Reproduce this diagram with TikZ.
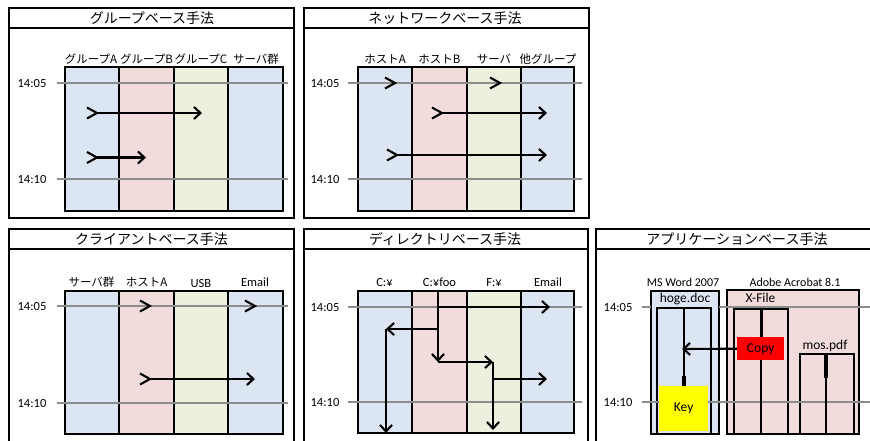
\documentclass[tikz,border=0pt]{standalone}
\usepackage{fontspec}
\setmainfont{Carlito}
\newfontfamily\jpfont{Noto Sans CJK JP}
\usetikzlibrary{arrows.meta}
\definecolor{cblue}{RGB}{220,230,242}
\definecolor{cpink}{RGB}{242,220,219}
\definecolor{cgreen}{RGB}{235,241,222}
\definecolor{cgray}{RGB}{140,140,140}
\definecolor{cred}{RGB}{255,0,0}
\definecolor{cyellow}{RGB}{255,255,0}
\begin{document}
\begin{tikzpicture}[x=1pt,y=-1pt,
  panel/.style={draw=black,line width=2pt},
  colbox/.style={draw=black,line width=1.9pt},
  tline/.style={draw=cgray,line width=2.4pt},
  arr/.style={draw=black,line width=2.1pt,line join=miter,-{Straight Barb[length=6.5pt,width=12pt]}},
  plainln/.style={draw=black,line width=1.9pt},
  thickln/.style={draw=black,line width=3.8pt},
  ttl/.style={inner sep=0pt,font=\jpfont\fontsize{14}{16}\selectfont},
  hdr/.style={inner sep=0pt,font=\jpfont\fontsize{11.5}{13}\selectfont},
  lat/.style={inner sep=0pt,font=\fontsize{12.5}{15}\selectfont},
  latb/.style={inner sep=0pt,font=\fontsize{13.5}{15}\selectfont},
  gttail/.pic={\draw[black,line width=2.1pt,line join=miter] (-10,-5.5) -- (0,0) -- (-10,5.5);}
]
\useasboundingbox (0,0) rectangle (870,440);
\clip (0,0) rectangle (870,440);
\fill[white] (0,0) rectangle (870,440);

% ===== Panel 1: group based =====
\draw[colbox,fill=cblue]  (65,67) rectangle (119,211);
\draw[colbox,fill=cpink]  (119,67) rectangle (174,211);
\draw[colbox,fill=cgreen] (174,67) rectangle (228,211);
\draw[colbox,fill=cblue]  (228,67) rectangle (283,211);
\draw[tline] (57,83) -- (288,83);
\draw[tline] (57,179) -- (288,179);
\draw[panel] (9,8) rectangle (294,218);
\draw[panel] (9,28) -- (294,28);
\node[ttl] (p1t) at (152,18) {グループベース手法};
\node[hdr] (p1h1) at (91,59) {グループA};
\node[hdr] (p1h2) at (146.5,59) {グループB};
\node[hdr] (p1h3) at (201,59) {グループC};
\node[hdr] (p1h4) at (256,59) {サーバ群};
\node[lat] (p1a) at (32,83) {14:05};
\node[lat] (p1b) at (32,179) {14:10};
\coordinate (p1s1) at (97,113); \coordinate (p1e1) at (202,113);
\coordinate (p1s2) at (97,157.5); \coordinate (p1e2) at (146,157.5);
\pic at (p1s1) {gttail}; \draw[arr] (p1s1) -- (p1e1);
\pic at (p1s2) {gttail}; \draw[arr] (p1s2) -- (p1e2);

% ===== Panel 2: network based =====
\draw[colbox,fill=cblue]  (358,67) rectangle (412,211);
\draw[colbox,fill=cpink]  (412,67) rectangle (467,211);
\draw[colbox,fill=cgreen] (467,67) rectangle (521,211);
\draw[colbox,fill=cblue]  (521,67) rectangle (574,211);
\draw[tline] (348,83) -- (582,83);
\draw[tline] (348,179) -- (582,179);
\draw[panel] (304,8) rectangle (589,218);
\draw[panel] (304,28) -- (589,28);
\node[ttl] (p2t) at (445,18) {ネットワークベース手法};
\node[hdr] (p2h1) at (385,59) {ホストA};
\node[hdr] (p2h2) at (439.5,59) {ホストB};
\node[hdr] (p2h3) at (494,59) {サーバ};
\node[hdr] (p2h4) at (548,59) {他グループ};
\node[lat] (p2a) at (325,83) {14:05};
\node[lat] (p2b) at (325,179) {14:10};
\coordinate (p2m1) at (395,83); \coordinate (p2m2) at (500,83);
\pic at (p2m1) {gttail}; \pic at (p2m2) {gttail};
\coordinate (p2s1) at (442,113); \coordinate (p2e1) at (547,113);
\coordinate (p2s2) at (397,155); \coordinate (p2e2) at (547,155);
\pic at (p2s1) {gttail}; \draw[arr] (p2s1) -- (p2e1);
\pic at (p2s2) {gttail}; \draw[arr] (p2s2) -- (p2e2);

% ===== Panel 3: client based =====
\draw[colbox,fill=cblue]  (65,291) rectangle (119,434);
\draw[colbox,fill=cpink]  (119,291) rectangle (174,434);
\draw[colbox,fill=cgreen] (174,291) rectangle (228,434);
\draw[colbox,fill=cblue]  (228,291) rectangle (283,434);
\draw[tline] (57,306) -- (288,306);
\draw[tline] (57,403) -- (288,403);
\draw[panel] (9,229) rectangle (294,450);
\draw[panel] (9,249) -- (294,249);
\node[ttl] (p3t) at (151.5,239) {クライアントベース手法};
\node[hdr] (p3h1) at (91.5,282) {サーバ群};
\node[hdr] (p3h2) at (146.5,282) {ホストA};
\node[lat] (p3h3) at (201,283) {USB};
\node[lat] (p3h4) at (255,282) {Email};
\node[lat] (p3a) at (32,306) {14:05};
\node[lat] (p3b) at (32,403) {14:10};
\coordinate (p3m1) at (150,306); \coordinate (p3m2) at (255,306);
\pic at (p3m1) {gttail}; \pic at (p3m2) {gttail};
\coordinate (p3s1) at (150,379); \coordinate (p3e1) at (255,379);
\pic at (p3s1) {gttail}; \draw[arr] (p3s1) -- (p3e1);

% ===== Panel 4: directory based =====
\draw[colbox,fill=cblue]  (358,291) rectangle (412,433);
\draw[colbox,fill=cpink]  (412,291) rectangle (467,433);
\draw[colbox,fill=cgreen] (467,291) rectangle (521,433);
\draw[colbox,fill=cblue]  (521,291) rectangle (574,433);
\draw[tline] (348,307) -- (582,307);
\draw[tline] (348,402) -- (582,402);
\draw[panel] (304,229) rectangle (588,450);
\draw[panel] (304,249) -- (588,249);
\node[ttl] (p4t) at (445,239) {ディレクトリベース手法};
\node[lat] (p4h1) at (384.5,282) {C:¥};
\node[lat] (p4h2) at (439.5,282) {C:¥foo};
\node[lat] (p4h3) at (494,283) {F:¥};
\node[lat] (p4h4) at (548,282) {Email};
\node[lat] (p4a) at (325,307) {14:05};
\node[lat] (p4b) at (325,402) {14:10};
\coordinate (d0) at (438,291);
\coordinate (d1) at (438,362);
\coordinate (d2) at (438,307);
\coordinate (d3) at (550,307);
\coordinate (d4) at (438,329);
\coordinate (d5) at (386,329);
\coordinate (d6) at (386,433);
\coordinate (d7) at (493,362);
\coordinate (d8) at (493,430);
\coordinate (d9) at (493,379);
\coordinate (d10) at (547,379);
\draw[arr] (d0) -- (d1);
\draw[arr] (d2) -- (d3);
\draw[arr] (d4) -- (d5);
\draw[arr] (d5) -- (d6);
\draw[arr] (d1) -- (d7);
\draw[arr] (d7) -- (d8);
\draw[arr] (d9) -- (d10);

% ===== Panel 5: application based =====
\draw[colbox,fill=cblue] (651,291) rectangle (719,434);
\draw[colbox,fill=cblue] (657,308) rectangle (711,434);
\draw[colbox,fill=cpink] (727,290) rectangle (859,434);
\draw[colbox,fill=cpink] (734,309) rectangle (788,434);
\draw[colbox,fill=cpink] (800,354) rectangle (854,434);
\draw[tline] (642,307) -- (651,307);
\draw[tline] (719,307) -- (880,307);
\draw[tline] (642,402) -- (880,402);
\draw[panel] (596,229) rectangle (878,450);
\draw[panel] (596,249) -- (878,249);
\node[ttl] (p5t) at (737,239) {アプリケーションベース手法};
\node[lat,font=\fontsize{12}{14}\selectfont] (p5h1) at (683,282) {MS Word 2007};
\node[lat,font=\fontsize{12}{14}\selectfont] (p5h2) at (795,282) {Adobe Acrobat 8.1};
\node[latb] (hoge) at (685,299) {hoge.doc};
\node[latb] (xfile) at (760.5,298) {X-File};
\node[latb] (mos) at (825,345.5) {mos.pdf};
\node[lat] (p5a) at (618,307) {14:05};
\node[lat] (p5b) at (618,402) {14:10};
% vertical lines
\coordinate (h0) at (684,308); \coordinate (h1) at (684,376); \coordinate (h2) at (684,387);
\draw[plainln] (h0) -- (h1);
\draw[thickln] (h1) -- (h2);
\node[fill=cyellow,minimum width=49pt,minimum height=45pt,inner sep=0pt,anchor=north west,font=\fontsize{13.5}{15}\selectfont] (key) at (659,386) {Key};
\coordinate (x0) at (761.5,309); \coordinate (x1) at (761.5,337);
\coordinate (x2) at (761,360); \coordinate (x3) at (761,434);
\draw[thickln] (x0) -- (x1);
\draw[plainln] (x2) -- (x3);
\node[fill=cred,minimum width=47pt,minimum height=23pt,inner sep=0pt,anchor=north west,font=\fontsize{13.5}{15}\selectfont] (copy) at (737,337) {Copy};
\coordinate (m0) at (826,354); \coordinate (m1) at (826,378); \coordinate (m2) at (826,434);
\draw[thickln] (m0) -- (m1);
\draw[plainln] (m1) -- (m2);
\coordinate (ctip) at (682,349);
\draw[arr] (copy.west) -- (ctip);
\end{tikzpicture}
\end{document}
